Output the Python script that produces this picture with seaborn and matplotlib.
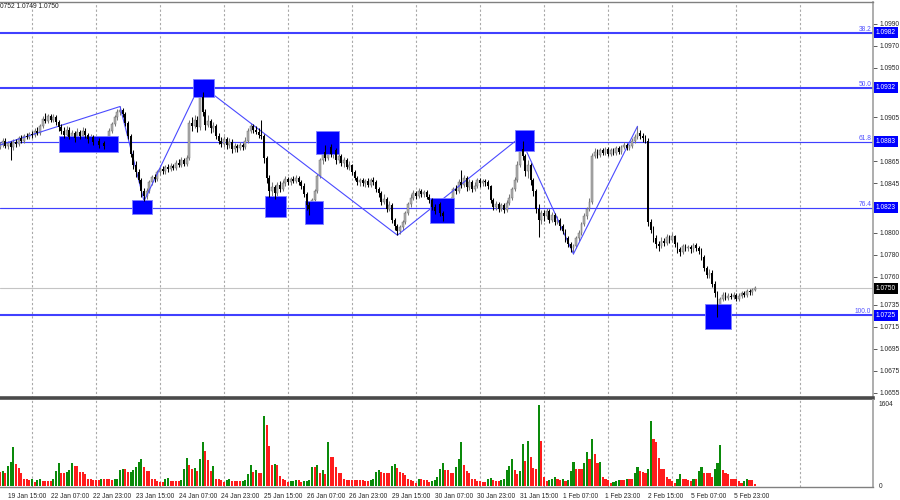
import numpy as np
import pandas as pd
import seaborn as sns
import matplotlib.pyplot as plt
import matplotlib.transforms as mtransforms
from matplotlib.patches import Rectangle


"""
EURUSD H1 with fibo levels, zigzag and volumes (MT4 look)
"""

# hourly bars, bar 0 = 19 Jan 15:00, prices in pips above 1.0700
first_bar = -3
first_open = 178

close_pips = [
    180, 184, 179, 182, 178, 183, 181, 186, 184, 188, 187, 190, 189,
    193, 191, 197, 204, 202, 206, 203, 205, 201,
    196, 193, 189, 194, 187, 191, 186, 192, 188, 193, 189, 185, 187, 183, 184, 180, 182, 179,
    186, 193, 199, 205, 210, 212, 208, 200,
    188, 172, 162, 155, 148, 138, 134,
    138, 146, 151, 149, 155, 158, 156, 160, 158, 161, 159, 164, 162, 166, 163, 168,
    200, 197, 203, 196, 224, 210, 198, 202, 195, 197, 188, 184, 181,
    185, 180, 183, 176, 179, 177, 180, 178, 184, 193, 197, 194, 192, 189, 188,
    168, 150, 138, 142, 136,
    144, 140, 145, 149, 146, 149, 147, 150, 146, 143,
    135, 125, 122, 130, 138,
    152, 166, 174, 168, 178, 172, 175, 166, 170,
    164, 166, 160, 162, 155, 150, 146, 148, 145, 147, 144, 148, 146,
    140, 136, 128, 131, 122, 125, 112, 106, 102,
    105, 110, 118, 126, 132, 136, 134, 138, 135, 137, 133, 130,
    124, 120, 126, 118, 115, 122, 125,
    130, 140, 138, 146, 144, 150, 142, 146, 140, 143, 148, 145, 147, 146, 143,
    130, 124, 126, 122, 125, 121, 127, 132, 140, 148,
    162, 176, 170, 156,
    162, 148, 138, 122, 112, 118, 115, 120, 112, 116, 110, 112, 106,
    102, 95, 90, 86, 88,
    95, 100, 108, 115, 122, 128,
    170, 174, 171, 175, 173, 176, 172, 175, 173, 177, 174, 178, 180, 177, 179, 184, 187, 191, 188, 186, 184,
    110, 103, 95, 90, 88, 93, 91, 96, 94, 97, 90, 85, 83, 88, 86, 87, 85, 89, 86, 84,
    78, 68, 62, 64, 54, 45, 33,
    40, 44, 41, 43, 42, 44, 40, 43, 45, 44, 47, 46, 48, 50,
]

high_pips = [
    183, 186, 186, 184, 184, 185, 185, 188, 189, 190, 191, 192, 193,
    195, 196, 199, 206, 209, 208, 208, 208, 207,
    203, 199, 196, 197, 196, 194, 193, 195, 194, 196, 195, 191, 190, 189, 187, 186, 185, 184,
    188, 195, 201, 207, 213, 215, 214, 210,
    202, 190, 175, 165, 158, 150, 141,
    141, 148, 153, 154, 157, 160, 161, 162, 163, 164, 163, 166, 167, 169, 168, 171,
    203, 205, 207, 206, 235, 228, 213, 207, 204, 201, 199, 191, 187,
    188, 187, 186, 185, 182, 181, 183, 182, 187, 195, 200, 199, 197, 195, 203,
    190, 170, 153, 146, 144,
    146, 147, 148, 152, 151, 151, 152, 153, 152, 148,
    145, 137, 128, 132, 140,
    154, 168, 178, 180, 189, 181, 179, 177, 173,
    172, 169, 168, 165, 163, 157, 152, 150, 150, 149, 150, 150, 151,
    148, 142, 138, 135, 133, 129, 127, 114, 108,
    107, 112, 120, 128, 135, 139, 138, 141, 140, 139, 139, 135,
    132, 126, 128, 128, 120, 124, 128,
    133, 142, 144, 149, 157, 153, 152, 149, 148, 146, 150, 150, 149, 149, 148,
    144, 132, 129, 128, 127, 127, 130, 135, 142, 151,
    165, 187, 184, 172,
    166, 164, 150, 140, 126, 121, 121, 123, 122, 119, 118, 115, 114,
    108, 104, 97, 92, 90,
    97, 103, 110, 118, 124, 132,
    173, 177, 176, 177, 177, 178, 178, 177, 177, 179, 179, 180, 183, 182, 181, 186, 190, 197, 194, 191, 189,
    186, 113, 106, 98, 93, 96, 95, 99, 98, 100, 98, 92, 87, 90, 90, 89, 89, 91, 91, 88,
    86, 80, 70, 67, 66, 56, 47,
    42, 46, 46, 45, 45, 46, 45, 45, 47, 47, 49, 49, 50, 52,
]

low_pips = [
    176, 178, 177, 176, 166, 175, 178, 179, 182, 182, 185, 185, 186,
    187, 189, 189, 195, 200, 200, 201, 201, 198,
    193, 190, 186, 187, 185, 184, 183, 184, 185, 186, 186, 182, 183, 180, 179, 177, 178, 176,
    177, 184, 191, 197, 203, 207, 205, 197,
    185, 169, 158, 151, 145, 133, 129,
    131, 136, 144, 146, 147, 153, 154, 154, 155, 156, 157, 157, 160, 160, 161, 161,
    166, 193, 195, 192, 194, 206, 194, 196, 191, 192, 185, 181, 178,
    178, 176, 177, 173, 174, 174, 175, 175, 176, 182, 191, 191, 190, 186, 185,
    164, 145, 133, 134, 131,
    134, 137, 138, 143, 144, 144, 145, 145, 144, 140,
    133, 121, 116, 119, 128,
    136, 150, 163, 165, 166, 169, 168, 163, 164,
    161, 160, 158, 157, 153, 148, 144, 143, 143, 142, 142, 142, 144,
    137, 133, 125, 126, 119, 120, 109, 103, 98,
    99, 103, 108, 116, 124, 130, 131, 132, 133, 133, 131, 127,
    121, 117, 118, 115, 111, 113, 120,
    122, 128, 135, 136, 141, 142, 138, 139, 137, 138, 141, 142, 143, 143, 140,
    127, 121, 121, 119, 120, 118, 119, 125, 130, 138,
    146, 160, 166, 152,
    150, 144, 134, 118, 96, 108, 111, 113, 109, 110, 107, 108, 103,
    99, 92, 87, 83, 81,
    86, 93, 98, 106, 113, 120,
    126, 168, 168, 169, 171, 171, 170, 170, 171, 171, 172, 172, 176, 175, 175, 177, 182, 185, 185, 183, 182,
    106, 100, 92, 86, 84, 86, 88, 89, 91, 92, 87, 82, 79, 81, 84, 84, 82, 83, 84, 81,
    75, 65, 59, 59, 51, 42, 24,
    30, 38, 39, 39, 40, 40, 38, 38, 41, 42, 42, 44, 44, 47,
]

volume = [
    280, 299, 260, 390, 475, 767, 429, 345, 260, 137, 137, 117, 143,
    78, 117, 130, 104, 104, 104, 104, 137,
    299, 442, 260, 247, 280, 312, 442, 397, 390, 273, 267, 228,
    143, 130, 117, 117, 117, 137, 137, 137, 137, 117, 137, 143,
    312, 325, 325, 273, 280, 312, 364, 475, 520, 377, 299, 293,
    143, 137, 104, 85, 85, 130, 150, 104, 104, 104, 104, 117,
    325, 546, 410, 325, 345, 293, 520, 852, 689, 507, 299, 390,
    143, 143, 117, 85, 117, 130, 104, 104, 91, 91, 104, 117,
    234, 403, 280, 312, 260, 260, 1365, 1190, 780, 410, 429, 410,
    195, 143, 117, 85, 91, 104, 117, 117, 78, 98, 104, 117,
    364, 364, 410, 260, 312, 234, 858, 572, 559, 364, 247, 247,
    143, 117, 117, 117, 117, 117, 117, 117, 91, 91, 117, 137,
    273, 312, 273, 260, 260, 247, 390, 429, 345, 280, 247, 215,
    143, 117, 104, 65, 130, 130, 117, 117, 85, 104, 117, 169, 325, 455, 312, 312,
    260, 260, 364, 520, 858, 410, 299, 247, 137, 137, 104, 104,
    85, 85, 130, 150, 117, 104, 104, 117, 143, 312, 390, 520,
    312, 234, 293, 819, 494, 884, 572, 345, 325, 1593, 884, 169,
    104, 117, 137, 169, 130, 117, 130, 104, 117, 299, 468, 332,
    325, 325, 455, 670, 533, 910, 618, 442, 475, 169, 137, 117,
    65, 78, 104, 117, 117, 117, 130, 130, 130, 260, 364, 299,
    280, 260, 325, 1268, 910, 858, 546, 338, 325, 182, 130, 104,
    65, 130, 234, 137, 130, 117, 104, 130, 130, 299, 364, 260,
    247, 247, 169, 325, 455, 793, 312, 260, 228, 143, 143, 137,
    104, 65, 98, 130, 117, 117, 33,
]

tick_bars = [0, 16, 32, 48, 64, 80, 96, 112, 128, 144, 160, 176, 192, 208, 224, 240, 256, 272]
tick_labels = ["19 Jan 15:00", "22 Jan 07:00", "22 Jan 23:00", "23 Jan 15:00", "24 Jan 07:00",
               "24 Jan 23:00", "25 Jan 15:00", "26 Jan 07:00", "26 Jan 23:00", "29 Jan 15:00",
               "30 Jan 07:00", "30 Jan 23:00", "31 Jan 15:00", "1 Feb 07:00", "1 Feb 23:00",
               "2 Feb 15:00", "5 Feb 07:00", "5 Feb 23:00"]
day_starts = [9, 33, 57, 81, 105, 129, 153, 177, 201, 225, 249, 273, 297]

# scale labels that stay visible next to the coloured price tags
price_ticks = [1.0990, 1.0970, 1.0950, 1.0905, 1.0865, 1.0845,
               1.0800, 1.0780, 1.0760, 1.0735, 1.0715, 1.0695, 1.0675, 1.0655]

fib_names = ["38.2", "50.0", "61.8", "76.4", "100.0"]
fib_prices = [1.0982, 1.0932, 1.0883, 1.0823, 1.0725]

zz_bars = [-3, 42, 51, 72, 146, 192, 212, 236]
zz_prices = [1.0880, 1.0915, 1.0829, 1.0935, 1.0798, 1.0887, 1.0781, 1.0897]

box_bars = [(19.1, 41.3), (46.5, 54.0), (69.4, 77.2), (96.4, 104.2), (111.4, 118.1),
            (115.5, 124.1), (158.2, 167.2), (190.1, 197.2), (261.3, 271.1)]
box_prices = [(1.0874, 1.0888), (1.0817, 1.0830), (1.0924, 1.0940), (1.0815, 1.0834),
              (1.0808, 1.0829), (1.0872, 1.0893), (1.0809, 1.0832), (1.0875, 1.0894),
              (1.0713, 1.0735)]

last_price = 1.0750
header = "0752 1.0749 1.0750"
vol_top = 1604


if __name__ == "__main__":
    sns.set_style("white")
    plt.rcParams["font.family"] = ["Liberation Sans", "DejaVu Sans"]

    bars = np.arange(len(close_pips)) + first_bar
    df = pd.DataFrame({
        "bar": bars,
        "open": 1.07 + np.array([first_open] + close_pips[:-1]) / 1e4,
        "close": 1.07 + np.array(close_pips) / 1e4,
        "high": 1.07 + np.array(high_pips) / 1e4,
        "low": 1.07 + np.array(low_pips) / 1e4,
        "volume": volume,
    })
    df["bottom"] = df[["open", "close"]].min(axis=1)
    df["body"] = (df["close"] - df["open"]).abs().clip(lower=0.00004)
    df["up"] = df["close"] >= df["open"]
    prev = df["volume"].shift(1).fillna(10**6)
    df["dir"] = np.where(df["volume"] > prev, "up", "down")

    fig = plt.figure(figsize=(9, 5), dpi=100)
    ax = fig.add_axes([0, 102 / 500, 873 / 900, 396 / 500])
    axv = fig.add_axes([0, 13 / 500, 873 / 900, 87 / 500])

    xlim = (-3.0, 324.3)
    fs = 4.8

    # price panel
    for d in day_starts:
        ax.axvline(d, color="#a8a8a8", lw=0.8, ls=(0, (2, 2)), zorder=1)
        axv.axvline(d, color="#a8a8a8", lw=0.8, ls=(0, (2, 2)), zorder=0)

    ax.axhline(last_price, color="#c4c4c4", lw=0.8, zorder=1.5)
    fib_color = "#4040ff"
    for name, p in zip(fib_names, fib_prices):
        lw = 0.85 if name in ("61.8", "76.4") else 1.5
        ax.axhline(p, color=fib_color, lw=lw, zorder=2.5)
        ax.text(0.998, p, name, transform=mtransforms.blended_transform_factory(ax.transAxes, ax.transData),
                ha="right", va="bottom", fontsize=fs, color="#5050ff")

    bull = df[df["up"]]
    bear = df[~df["up"]]
    ax.vlines(bull["bar"], bull["low"], bull["high"], color="#7a7a7a", lw=0.75, zorder=3)
    ax.bar(bull["bar"], bull["body"], bottom=bull["bottom"], width=0.72,
           color="#b0b0b0", edgecolor="#6c6c6c", linewidth=0.35, zorder=3)

    sns.lineplot(x=zz_bars, y=zz_prices, sort=False, color="#4a4aff", lw=0.8, ax=ax, zorder=3.2)

    for (b0, b1), (p0, p1) in zip(box_bars, box_prices):
        ax.add_patch(Rectangle((b0, p0), b1 - b0, p1 - p0, facecolor="#0000ff",
                               edgecolor="#8080ff", lw=0.6, zorder=3.5))

    ax.vlines(bear["bar"], bear["low"], bear["high"], color="black", lw=0.75, zorder=4)
    ax.bar(bear["bar"], bear["body"], bottom=bear["bottom"], width=0.72,
           color="black", linewidth=0, zorder=4)

    ax.set_xlim(*xlim)
    ax.set_ylim(1.0650, 1.1010)
    ax.yaxis.tick_right()
    ax.set_yticks(price_ticks)
    ax.set_yticklabels([f"{p:.4f}" for p in price_ticks])
    ax.tick_params(axis="y", labelsize=fs, length=3, width=0.6, color="#404040", pad=1.5)
    ax.set_xticks([])
    ax.set_xlabel("")
    ax.set_ylabel("")
    ax.spines["left"].set_visible(False)
    ax.spines["top"].set_color("#808080")
    ax.spines["top"].set_linewidth(1.0)
    ax.spines["right"].set_color("#a0a0a0")
    ax.spines["right"].set_linewidth(1.2)
    ax.spines["bottom"].set_color("#4a4a4a")
    ax.spines["bottom"].set_linewidth(2.6)

    # price tags on the axis
    tag_tr = mtransforms.blended_transform_factory(ax.transAxes, ax.transData)
    for p in fib_prices:
        ax.text(1.0 + 2.5 / 873, p, f"{p:.4f}", transform=tag_tr, ha="left", va="center",
                fontsize=fs, color="white", zorder=6,
                bbox=dict(boxstyle="square,pad=0.3", fc="#0000ff", ec="none"))
    ax.text(1.0 + 2.5 / 873, last_price, f"{last_price:.4f}", transform=tag_tr, ha="left",
            va="center", fontsize=fs, color="white", zorder=6,
            bbox=dict(boxstyle="square,pad=0.3", fc="black", ec="none"))

    fig.text(0.0, 1 - 7 / 500, header, fontsize=fs, ha="left", va="center", color="#202020")

    # volume panel
    sns.barplot(data=df, x="bar", y="volume", hue="dir", native_scale=True, dodge=False,
                palette={"up": "#0a8a0a", "down": "#ff1c1c"}, width=0.78, errorbar=None,
                saturation=1, linewidth=0, legend=False, ax=axv)
    axv.set_xlim(*xlim)
    axv.set_ylim(-20, 1682)
    axv.set_xlabel("")
    axv.set_ylabel("")
    axv.yaxis.tick_right()
    axv.set_yticks([0, vol_top])
    axv.set_yticklabels(["0", str(vol_top)])
    axv.tick_params(axis="y", labelsize=fs, length=0, pad=4)
    axv.set_xticks(tick_bars)
    axv.set_xticklabels(tick_labels, ha="left")
    axv.tick_params(axis="x", labelsize=fs, length=3, width=0.6, color="#404040", pad=1)
    axv.spines["left"].set_visible(False)
    axv.spines["top"].set_visible(False)
    axv.spines["right"].set_color("#a0a0a0")
    axv.spines["right"].set_linewidth(1.2)
    axv.spines["bottom"].set_color("#808080")
    axv.spines["bottom"].set_linewidth(1.0)

    fig.savefig("out.png", dpi=100, facecolor="white")
